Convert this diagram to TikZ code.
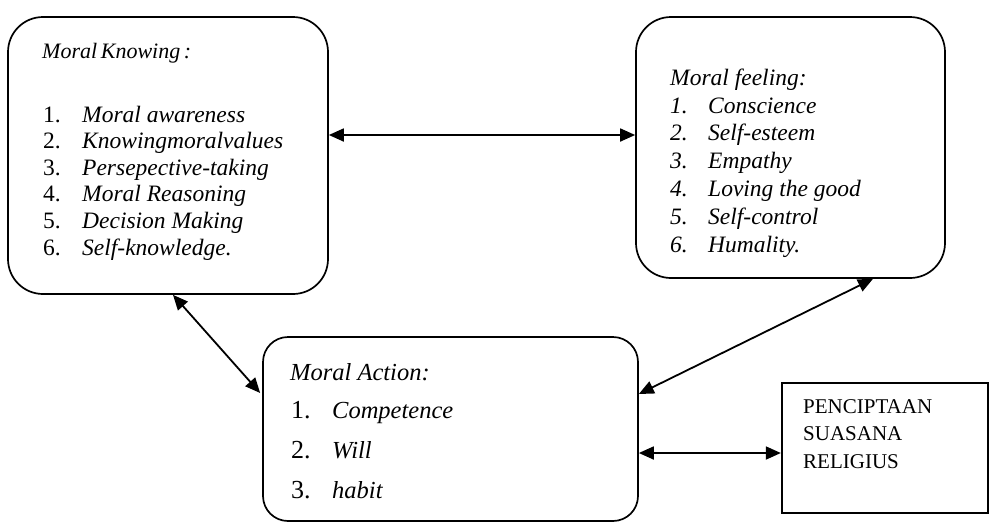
\documentclass[tikz,border=0pt]{standalone}
\usepackage{fontspec}
\setmainfont{Liberation Serif}
\usetikzlibrary{arrows.meta,positioning}

\begin{document}
\begin{tikzpicture}[x=1pt,y=-1pt,
  >={Triangle[length=15pt,width=13pt]},
  card/.style={draw,line width=1.7pt,rounded corners=35pt,inner sep=0pt},
  plainbox/.style={draw,line width=1.7pt,inner sep=0pt},
  txt/.style={anchor=base west,inner sep=0pt,align=left},
  link/.style={<->,line width=1.8pt}]
  \useasboundingbox (0,0) rectangle (991,523);
  % boxes
  \node[card,minimum width=320pt,minimum height=277pt] (knowing) at (168,155.5) {};
  \node[card,minimum width=309pt,minimum height=261pt] (feeling) at (790.5,147.5) {};
  \node[card,rounded corners=25pt,minimum width=375pt,minimum height=184pt] (action) at (450.5,429) {};
  \node[plainbox,minimum width=206pt,minimum height=130pt,right=142pt of action,yshift=-19pt] (religi) {};
  % texts
  \node[txt,font=\fontsize{22}{26}\selectfont\itshape] (knowhead) at (42,58) {Moral\,Knowing\,:};
  \node[txt,font=\fontsize{23.5}{26.6}\selectfont] (knowlist) at (43,122)
    {\begin{tabular}[t]{@{}p{39pt}@{}l@{}}
     1. & \textit{Moral awareness}\\
     2. & \textit{Knowingmoralvalues}\\
     3. & \textit{Persepective-taking}\\
     4. & \textit{Moral Reasoning}\\
     5. & \textit{Decision Making}\\
     6. & \textit{Self-knowledge.}
     \end{tabular}};
  \node[txt,font=\fontsize{23.5}{27.8}\selectfont\itshape] (feelhead) at (670,85) {Moral feeling:};
  \node[txt,font=\fontsize{23.5}{27.8}\selectfont\itshape] (feellist) at (670,113)
    {\begin{tabular}[t]{@{}p{38pt}@{}l@{}}
     1. & Conscience\\
     2. & Self-esteem\\
     3. & Empathy\\
     4. & Loving the good\\
     5. & Self-control\\
     6. & Humality.
     \end{tabular}};
  \node[txt,font=\fontsize{24.5}{28}\selectfont\itshape] (acthead) at (290,380) {Moral Action:};
  \node[txt,font=\fontsize{26}{40}\selectfont] (actlist) at (291,418)
    {\begin{tabular}[t]{@{}p{41pt}@{}l@{}}
     1. & \fontsize{24.5}{40}\selectfont\textit{Competence}\\
     2. & \fontsize{24.5}{40}\selectfont\textit{Will}\\
     3. & \fontsize{24.5}{40}\selectfont\textit{habit}
     \end{tabular}};
  \node[txt,font=\fontsize{21}{27.5}\selectfont] (religitxt) at (803,413)
    {\begin{tabular}[t]{@{}l@{}}PENCIPTAAN\\SUASANA\\RELIGIUS\end{tabular}};
  % connectors
  \draw[link] ([yshift=20.5pt]knowing.east) -- ([yshift=12.5pt]feeling.west);
  \draw[link] ([xshift=5pt]knowing.south) -- ([xshift=-2pt,yshift=36pt]action.west);
  \draw[link] ([xshift=82.5pt]feeling.south) -- ([yshift=35pt]action.east);
  \draw[link] ([yshift=-24pt]action.east) -- ([yshift=-5pt]religi.west);
\end{tikzpicture}
\end{document}
